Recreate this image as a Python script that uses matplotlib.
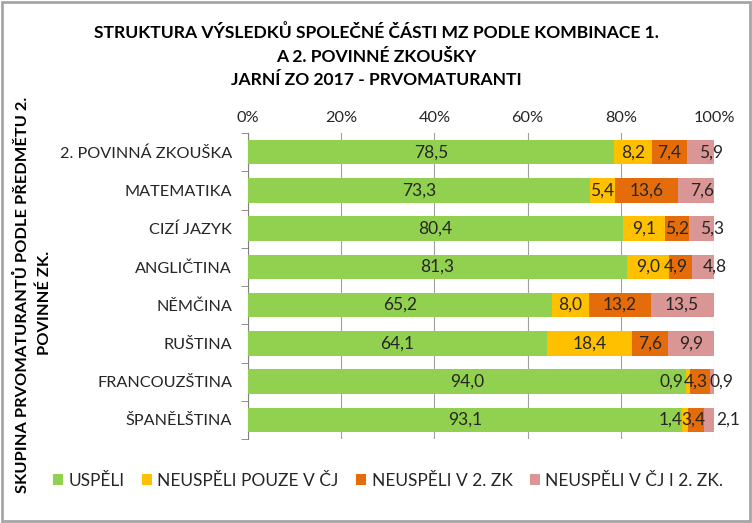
import matplotlib
matplotlib.use("Agg")
import matplotlib.pyplot as plt
from matplotlib import font_manager
from matplotlib.patches import Rectangle
import numpy as np

categories = ["2. POVINNÁ ZKOUŠKA", "MATEMATIKA", "CIZÍ JAZYK", "ANGLIČTINA",
              "NĚMČINA", "RUŠTINA", "FRANCOUZŠTINA", "ŠPANĚLŠTINA"]
uspeli = [78.5, 73.3, 80.4, 81.3, 65.2, 64.1, 94.0, 93.1]
neuspeli_cj = [8.2, 5.4, 9.1, 9.0, 8.0, 18.4, 0.9, 1.4]
neuspeli_2zk = [7.4, 13.6, 5.2, 4.9, 13.2, 7.6, 4.3, 3.4]
neuspeli_oba = [5.9, 7.6, 5.3, 4.8, 13.5, 9.9, 0.9, 2.1]
series_names = ["USPĚLI", "NEUSPĚLI POUZE V ČJ", "NEUSPĚLI V 2. ZK", "NEUSPĚLI V ČJ I 2. ZK."]
colors = ["#92D050", "#FFC000", "#E46C0A", "#D99694"]
xticks = [0, 20, 40, 60, 80, 100]

# label nudges (in % units) for crowded labels: (row, series) -> dx
label_nudge = {(0, 3): 2.3, (1, 3): 1.3, (2, 3): 2.3, (3, 2): -0.9, (3, 3): 2.6,
               (6, 1): -3.6, (6, 2): -0.9, (6, 3): 1.9,
               (7, 1): -3.2, (7, 2): -0.6, (7, 3): 4.1}

avail = {f.name for f in font_manager.fontManager.ttflist}
fam = [f for f in ["Lato", "Open Sans", "DejaVu Sans"] if f in avail]
plt.rcParams['font.family'] = fam + ["DejaVu Sans"]
FS_TICK = 11.7
FS_TITLE = 12.6
FS_LEG = 12.5
FS_YLAB = 11.8
FS_DATA = 12.5

fig = plt.figure(figsize=(7.52, 5.23), dpi=100)
ax = fig.add_axes([248/752, 1-439/523, (714-248)/752, (439-133)/523])

series = [uspeli, neuspeli_cj, neuspeli_2zk, neuspeli_oba]
y = np.arange(len(categories))
left = np.zeros(len(categories))
for si, (vals, c, name) in enumerate(zip(series, colors, series_names)):
    vals = np.array(vals)
    ax.barh(y, vals, left=left, height=0.64, color=c, label=name, zorder=3)
    for yi, l, v in zip(y, left, vals):
        dx = label_nudge.get((int(yi), si), 0)
        ax.text(l + v/2 + dx, yi, f"{v:.1f}".replace(".", ","), ha="center", va="center",
                fontsize=FS_DATA, color="#262626", zorder=4, clip_on=False)
    left += vals

ax.set_xlim(0, 100)
ax.set_ylim(len(categories)-0.5, -0.5)
ax.set_xticks(xticks)
ax.set_xticklabels([f"{t}%" for t in xticks], fontsize=FS_TICK, color="#262626")
ax.xaxis.tick_top()
ax.tick_params(axis="x", length=0, pad=6)
ax.set_yticks(y)
ax.set_yticklabels(categories, fontsize=FS_TICK, color="#262626")
ax.set_yticks(np.arange(-0.5, len(categories), 1), minor=True)
ax.tick_params(axis="y", which="major", length=0, pad=11.5)
ax.tick_params(axis="y", which="minor", length=5, color="#808080")
ax.grid(axis="x", color="#A0A0A0", linewidth=0.8, zorder=0)
for s in ["top", "right", "bottom"]:
    ax.spines[s].set_visible(False)
ax.spines["left"].set_color("#808080")

fig.text(0.5, 1-33/523, "STRUKTURA VÝSLEDKŮ SPOLEČNÉ ČÁSTI MZ PODLE KOMBINACE 1.",
         ha="center", va="center", fontsize=FS_TITLE, fontweight="bold")
fig.text(0.5, 1-57/523, "A 2. POVINNÉ ZKOUŠKY", ha="center", va="center", fontsize=FS_TITLE, fontweight="bold")
fig.text(0.5, 1-80/523, "JARNÍ ZO 2017 - PRVOMATURANTI", ha="center", va="center", fontsize=FS_TITLE, fontweight="bold")

fig.text(22/752, 1-295/523, "SKUPINA PRVOMATURANTŮ PODLE PŘEDMĚTU 2.", rotation=90,
         ha="center", va="center", fontsize=FS_YLAB, fontweight="bold")
fig.text(45/752, 1-303/523, "POVINNÉ ZK.", rotation=90, ha="center", va="center",
         fontsize=FS_YLAB, fontweight="bold")

fig.legend(loc="center", bbox_to_anchor=(388/752, 1-481/523), ncol=4, frameon=False,
           fontsize=FS_LEG, handlelength=0.6, handleheight=0.6, handletextpad=0.3,
           columnspacing=1.0, labelcolor="#262626")

fig.patches.append(Rectangle((0.002, 0.003), 0.996, 0.994, transform=fig.transFigure,
                             fill=False, edgecolor="#A6A6A6", linewidth=2))
fig.savefig("out.png", dpi=100)
